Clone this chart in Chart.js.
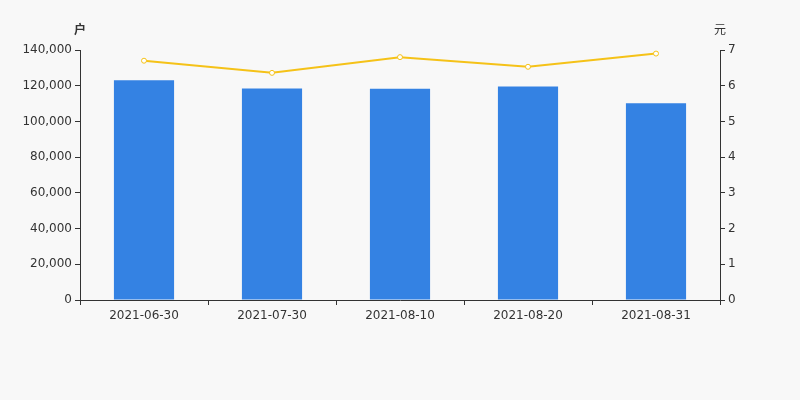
<!DOCTYPE html>
<html><head><meta charset="utf-8">
<script src="https://cdn.jsdelivr.net/npm/chart.js@4"></script>
<style>html,body{margin:0;padding:0;background:#f8f8f8}#c{display:block}</style>
</head><body>
<div style="width:800px;height:400px"><canvas id="c" width="800" height="400"></canvas></div>
<script>
const categories = ['2021-06-30','2021-07-30','2021-08-10','2021-08-20','2021-08-31'];
const holders = [123000, 118400, 118300, 119600, 110200];
const avgValue = [6.70, 6.36, 6.80, 6.53, 6.90];
const leftTitle = '户';
const rightTitle = '元';

const titlesPlugin = {
  id: 'axisTitles',
  afterDraw(chart) {
    const ctx = chart.ctx;
    ctx.save();
    ctx.fillStyle = '#333';
    ctx.textBaseline = 'middle';
    ctx.textAlign = 'center';
    const y = chart.scales.y, y1 = chart.scales.y1;
    ctx.font = 'bold 12px "Noto Sans CJK SC", sans-serif';
    ctx.fillText(leftTitle, y.right, 29);
    ctx.font = '12px "Noto Sans CJK SC", sans-serif';
    ctx.fillText(rightTitle, y1.left, 29);
    ctx.restore();
  }
};

new Chart(document.getElementById('c'), {
  data: {
    labels: categories,
    datasets: [
      { type: 'line', data: avgValue, yAxisID: 'y1', borderColor: '#F5C218', borderWidth: 2,
        pointRadius: 2.5, pointBackgroundColor: '#ffffff', pointBorderColor: '#F5C218', pointBorderWidth: 1,
        tension: 0, order: 0 },
      { type: 'bar', data: holders, yAxisID: 'y', backgroundColor: '#3482E3',
        barPercentage: 0.47, categoryPercentage: 1, order: 1 }
    ]
  },
  options: {
    responsive: false, animation: false,
    layout: { padding: { top: 50, left: 0, right: 0, bottom: 0 } },
    plugins: { legend: { display: false }, tooltip: { enabled: false } },
    scales: {
      x: {
        offset: true,
        grid: { display: true, drawOnChartArea: false, offset: true, tickLength: 5, color: '#333' },
        border: { color: '#333' },
        ticks: { color: '#333', font: { size: 12, family: '"DejaVu Sans", sans-serif' }, padding: 4 },
        afterFit(s) { s.height = 100; }
      },
      y: {
        position: 'left', min: 0, max: 140000,
        ticks: { stepSize: 20000, color: '#333', font: { size: 12, family: '"DejaVu Sans", sans-serif' },
          callback: v => v.toLocaleString('en-US'), padding: 3 },
        grid: { display: true, drawOnChartArea: false, tickLength: 5, color: '#333' },
        border: { color: '#333' },
        afterFit(s) { s.width = 80; }
      },
      y1: {
        position: 'right', min: 0, max: 7,
        ticks: { stepSize: 1, color: '#333', font: { size: 12, family: '"DejaVu Sans", sans-serif' }, padding: 3 },
        grid: { display: true, drawOnChartArea: false, tickLength: 5, color: '#333' },
        border: { color: '#333' },
        afterFit(s) { s.width = 80; }
      }
    }
  },
  plugins: [titlesPlugin]
});
</script>
</body></html>
